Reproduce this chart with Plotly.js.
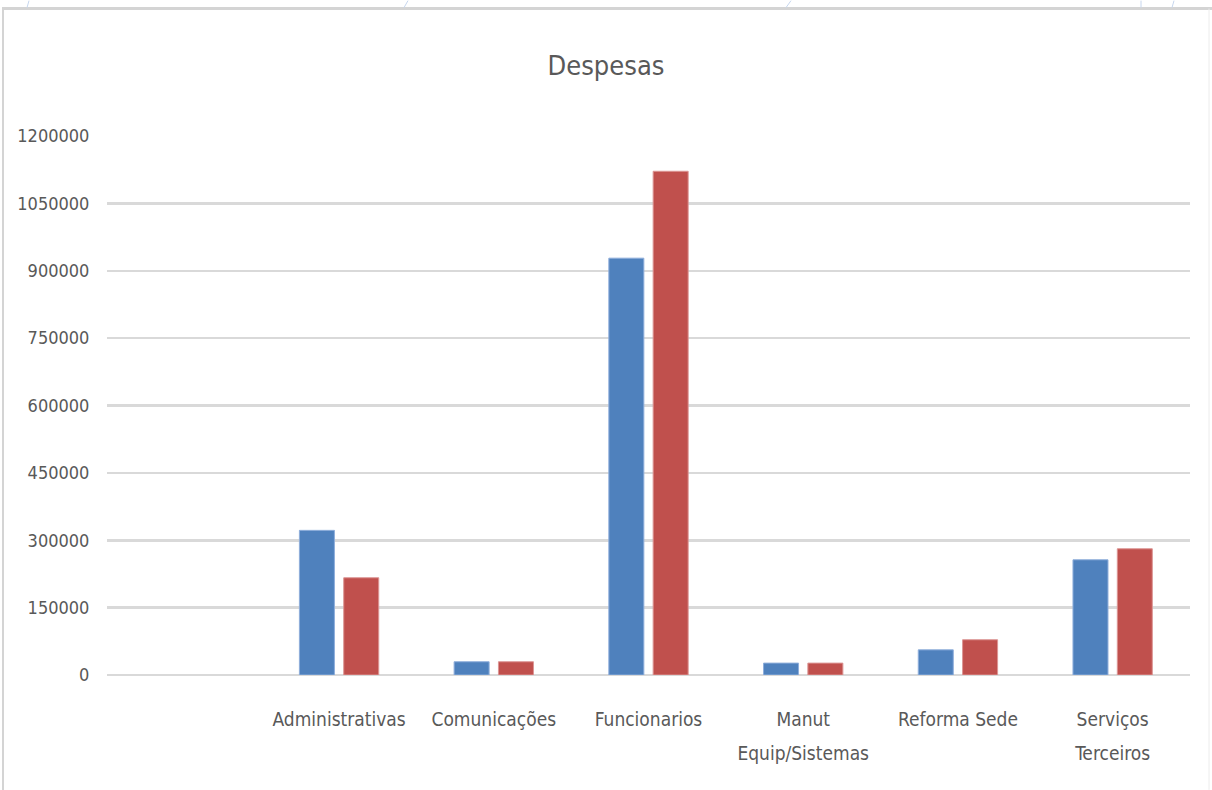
<!DOCTYPE html>
<html>
<head>
<meta charset="utf-8">
<script src="https://cdn.plot.ly/plotly-3.0.1.min.js"></script>
<style>
  html, body { margin: 0; padding: 0; background: #ffffff; }
  #chart { width: 1212px; height: 790px; }
</style>
</head>
<body>
<div id="chart"></div>
<script>
// ---- data ----
var categories = [" ", "Administrativas", "Comunicações", "Funcionarios", "Manut Equip/Sistemas", "Reforma Sede", "Serviços Terceiros"];
var tickLabels = [" ", "Administrativas", "Comunicações", "Funcionarios", "Manut<br>Equip/Sistemas", "Reforma Sede", "Serviços<br>Terceiros"];
var serie1 = [null, 322000, 29500, 928000, 26500, 56000, 256500];
var serie2 = [null, 216500, 29500, 1121500, 26500, 78500, 281000];
var yTicks = [0, 150000, 300000, 450000, 600000, 750000, 900000, 1050000, 1200000];

var FONT = "'DejaVu Sans Condensed', 'Liberation Sans Narrow', 'Arial Narrow', sans-serif";

function wrapLabel(t) {
  return t.split("<br>").map(function (s) {
    return '<span style="font-size:19px">' + s + '</span>';
  }).join("<br>");
}

// plot area geometry (pixels) used to place decorative frame in paper coords
var L = 107, R = 22, T = 135.5, B = 115, W = 1212, H = 790;
var PW = W - L - R, PH = H - T - B;
function px(x) { return (x - L) / PW; }
function py(y) { return (H - B - y) / PH; }

var frameColor = "#d4d4d4";
var shapes = [
  { type: "line", xref: "paper", yref: "paper", x0: px(2), x1: px(1212), y0: py(8), y1: py(8), line: { color: frameColor, width: 3 } },
  { type: "line", xref: "paper", yref: "paper", x0: px(3), x1: px(3), y0: py(8), y1: py(790), line: { color: frameColor, width: 2 } },
  { type: "line", xref: "paper", yref: "paper", x0: px(1209), x1: px(1209), y0: py(8), y1: py(790), line: { color: "#ececec", width: 1 } },
  { type: "line", xref: "paper", yref: "paper", x0: px(29), x1: px(27), y0: py(0), y1: py(7), line: { color: "#c6d6ee", width: 1 } },
  { type: "line", xref: "paper", yref: "paper", x0: px(408), x1: px(404), y0: py(0), y1: py(7), line: { color: "#c6d6ee", width: 1 } },
  { type: "line", xref: "paper", yref: "paper", x0: px(791), x1: px(786), y0: py(0), y1: py(7), line: { color: "#c6d6ee", width: 1 } },
  { type: "line", xref: "paper", yref: "paper", x0: px(1141), x1: px(1141), y0: py(0), y1: py(7), line: { color: "#c6d6ee", width: 1 } },
  { type: "line", xref: "paper", yref: "paper", x0: px(1174), x1: px(1172), y0: py(0), y1: py(7), line: { color: "#c6d6ee", width: 1 } }
];

var traces = [
  {
    type: "bar", name: "Série 1", x: categories, y: serie1,
    marker: { color: "#4f81bd", line: { color: "#8eaedb", width: 1 } },
    hoverinfo: "x+y"
  },
  {
    type: "bar", name: "Série 2", x: categories, y: serie2,
    marker: { color: "#c0504d", line: { color: "#dc9594", width: 1 } },
    hoverinfo: "x+y"
  }
];

var layout = {
  width: W, height: H,
  margin: { l: L, r: R, t: T, b: B, pad: 0 },
  paper_bgcolor: "#ffffff",
  plot_bgcolor: "#ffffff",
  showlegend: false,
  barmode: "group",
  bargap: 0.427,
  bargroupgap: 0.21,
  font: { family: FONT, color: "#595959", size: 19 },
  title: {
    text: "Despesas",
    font: { family: FONT, size: 27, color: "#595959" },
    x: 0.5, xref: "container", xanchor: "center",
    y: 1 - 66 / 790, yref: "container", yanchor: "middle"
  },
  xaxis: {
    type: "category",
    categoryorder: "array",
    categoryarray: categories,
    tickmode: "array",
    tickvals: categories,
    ticktext: tickLabels.map(wrapLabel),
    range: [-0.5, categories.length - 0.5],
    showgrid: false,
    zeroline: false,
    showline: false,
    ticks: "outside",
    ticklen: 19,
    tickcolor: "rgba(0,0,0,0)",
    tickfont: { family: FONT, size: 26, color: "#595959" },
    fixedrange: true
  },
  yaxis: {
    range: [0, 1200000],
    tickmode: "array",
    tickvals: yTicks,
    ticktext: yTicks.map(String),
    showgrid: true,
    gridcolor: "#d9d9d9",
    gridwidth: 2.5,
    zeroline: true,
    zerolinecolor: "#d9d9d9",
    zerolinewidth: 2.5,
    showline: false,
    ticks: "outside",
    ticklen: 13,
    tickcolor: "rgba(0,0,0,0)",
    tickfont: { family: FONT, size: 18, color: "#595959" },
    fixedrange: true
  },
  shapes: shapes
};

Plotly.newPlot("chart", traces, layout, { displayModeBar: false, staticPlot: true });
</script>
</body>
</html>
